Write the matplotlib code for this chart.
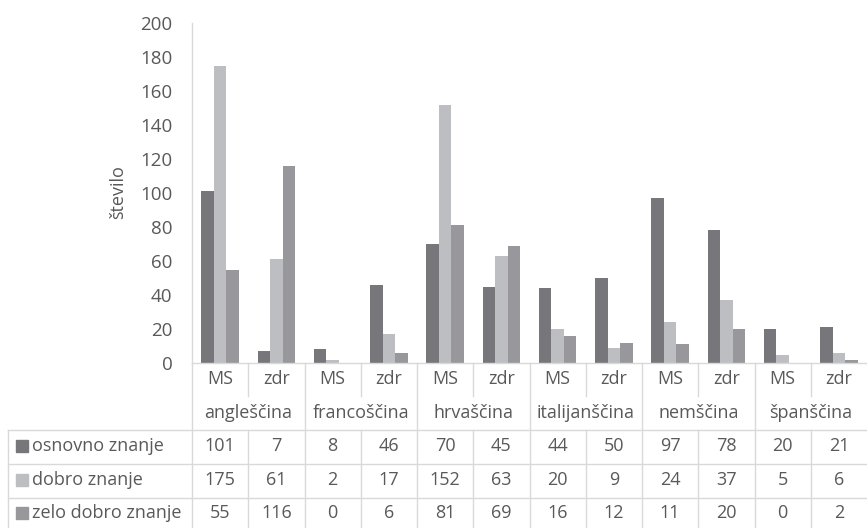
import matplotlib
matplotlib.use("Agg")
import matplotlib.pyplot as plt
import numpy as np

plt.rcParams['font.family'] = ['Open Sans', 'DejaVu Sans']

languages = ["angleščina", "francoščina", "hrvaščina", "italijanščina", "nemščina", "španščina"]
subgroups = ["MS", "zdr"]
series_names = ["osnovno znanje", "dobro znanje", "zelo dobro znanje"]
osnovno = [101, 7, 8, 46, 70, 45, 44, 50, 97, 78, 20, 21]
dobro = [175, 61, 2, 17, 152, 63, 20, 9, 24, 37, 5, 6]
zelo_dobro = [55, 116, 0, 6, 81, 69, 16, 12, 11, 20, 0, 2]
series = [osnovno, dobro, zelo_dobro]
colors = ["#77777b", "#bdbec2", "#98989c"]
y_ticks = [0, 20, 40, 60, 80, 100, 120, 140, 160, 180, 200]

W, H = 867, 528
fig = plt.figure(figsize=(W / 100, H / 100), dpi=100)

def fx(px):
    return px / W

def fy(py):
    return 1 - py / H

ax_left, ax_right, ax_top, ax_bottom = 192, 867, 23, 363
ax = fig.add_axes([fx(ax_left), fy(ax_bottom), fx(ax_right - ax_left), (ax_bottom - ax_top) / H])

n = len(osnovno)
x = np.arange(n)
bw = 2 / 3 / 3
for i, (vals, c) in enumerate(zip(series, colors)):
    ax.bar(x + (i - 1) * bw, vals, width=bw, color=c, zorder=2)

ax.set_xlim(-0.5, n - 0.5)
ax.set_ylim(0, 200)
ax.set_yticks(y_ticks)
ax.tick_params(axis='y', length=0, labelsize=13.5, labelcolor="#595959", pad=14)
ax.set_xticks([])
for s in ["top", "right", "bottom"]:
    ax.spines[s].set_visible(False)
ax.spines["left"].set_color("#d9d9d9")
ax.spines["left"].set_linewidth(1)

fig.text(fx(118), fy(192), "število", rotation=90, ha="center", va="center",
         fontsize=13, color="#595959")

# data table under the axis
line_c = "#d9d9d9"
txt_c = "#595959"
row1_top, row1_bot, row2_bot = 363, 396, 430
data_rows = [430, 464, 498, 530]
tbl_left = 8

def col_edge(i):
    return ax_left + (ax_right - ax_left) * i / n

def hline(y, x0, x1):
    fig.add_artist(plt.Line2D([fx(x0), fx(x1)], [fy(y), fy(y)], color=line_c, lw=1))

def vline(x0, y0, y1):
    fig.add_artist(plt.Line2D([fx(x0), fx(x0)], [fy(y0), fy(y1)], color=line_c, lw=1))

hline(row1_top, ax_left, ax_right)
for y in data_rows[:-1]:
    hline(y, tbl_left, ax_right)
vline(ax_left, row1_top, data_rows[-1])
vline(tbl_left, data_rows[0], data_rows[-1])
for i in range(1, n):
    if i % 2 == 0:
        vline(col_edge(i), row1_top, data_rows[-1])
    else:
        vline(col_edge(i), row1_top, row1_bot)
        vline(col_edge(i), data_rows[0], data_rows[-1])

fs = 13
for i in range(n):
    cx = (col_edge(i) + col_edge(i + 1)) / 2
    fig.text(fx(cx), fy((row1_top + row1_bot) / 2), subgroups[i % 2], ha="center", va="center",
             fontsize=fs, color=txt_c)
    for r, vals in enumerate(series):
        fig.text(fx(cx), fy((data_rows[r] + data_rows[r + 1]) / 2 - 1), str(vals[i]),
                 ha="center", va="center", fontsize=fs, color=txt_c)
for j, lang in enumerate(languages):
    cx = col_edge(2 * j + 1)
    fig.text(fx(cx), fy((row1_bot + row2_bot) / 2), lang, ha="center", va="center",
             fontsize=fs, color=txt_c)
for r, (name, c) in enumerate(zip(series_names, colors)):
    cy = (data_rows[r] + data_rows[r + 1]) / 2 - 1
    fig.add_artist(plt.Rectangle((fx(16), fy(cy + 6)), fx(12), 12 / H, color=c))
    fig.text(fx(32), fy(cy), name, ha="left", va="center", fontsize=fs, color=txt_c)

fig.savefig("out.png", dpi=100)
